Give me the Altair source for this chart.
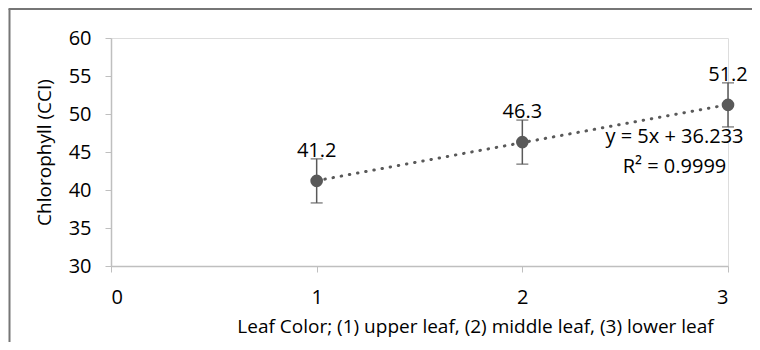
import altair as alt
import pandas as pd

# ---- data ----
leaf = [1, 2, 3]
chlorophyll = [41.2, 46.3, 51.2]
error = [2.9, 2.9, 2.9]
x_ticks = [0, 1, 2, 3]
y_ticks = [30, 35, 40, 45, 50, 55, 60]
eq_text = ["y = 5x + 36.233", "R² = 0.9999"]
eq_x = [2.74, 2.74]
eq_y = [47.0, 43.0]

df = pd.DataFrame({
    "x": leaf,
    "y": chlorophyll,
    "lo": [v - e for v, e in zip(chlorophyll, error)],
    "hi": [v + e for v, e in zip(chlorophyll, error)],
})
eq_df = pd.DataFrame({"x": eq_x, "y": eq_y, "t": eq_text})
one = pd.DataFrame({"a": [0]})

FONT = "Open Sans"
GRAY = "#595959"
AXIS_GRAY = "#bfbfbf"

W, H = 617, 228
PAD = {"left": 103, "top": 30, "right": 24, "bottom": 76}

xscale = alt.Scale(domain=[0, 3], nice=False, zero=False)
yscale = alt.Scale(domain=[30, 60], nice=False, zero=False)

xaxis = alt.Axis(values=x_ticks, format="d", grid=False,
                 title="Leaf Color; (1) upper leaf, (2) middle leaf, (3) lower leaf",
                 domainColor=AXIS_GRAY, tickColor=AXIS_GRAY, tickSize=6, domainWidth=1.5,
                 labelFont=FONT, labelFontSize=20, labelColor="#000000",
                 labelPadding=15, titleFont=FONT, titleFontSize=19,
                 titleFontWeight="normal", titleColor="#000000",
                 titleX=364, titleAnchor="middle", titlePadding=10)
yaxis = alt.Axis(values=y_ticks, grid=False, title="Chlorophyll (CCI)",
                 domainColor=AXIS_GRAY, tickColor=AXIS_GRAY, tickSize=6, domainWidth=1.5,
                 labelFont=FONT, labelFontSize=20, labelColor="#000000",
                 labelPadding=14, titleFont=FONT, titleFontSize=19,
                 titleFontWeight="normal", titleColor="#000000", titlePadding=14)

X = alt.X("x:Q", scale=xscale, axis=xaxis)
Y = alt.Y("y:Q", scale=yscale, axis=yaxis)

trend = alt.Chart(df).transform_regression(
    "x", "y", extent=[1, 3]
).mark_line(color=GRAY, strokeWidth=3, strokeDash=[0.5, 7.8], strokeCap="round").encode(x=X, y=Y)

bars = alt.Chart(df).mark_rule(color=GRAY, strokeWidth=1.5).encode(
    x=X, y=alt.Y("lo:Q", scale=yscale, axis=yaxis), y2="hi:Q")
cap_lo = alt.Chart(df).mark_tick(color=GRAY, orient="horizontal", size=12, thickness=1.5).encode(
    x=X, y=alt.Y("lo:Q", scale=yscale, axis=yaxis))
cap_hi = alt.Chart(df).mark_tick(color=GRAY, orient="horizontal", size=12, thickness=1.5).encode(
    x=X, y=alt.Y("hi:Q", scale=yscale, axis=yaxis))

points = alt.Chart(df).mark_point(filled=True, shape="circle", size=160, color=GRAY, opacity=1).encode(x=X, y=Y)

labels = alt.Chart(df).mark_text(font=FONT, fontSize=20, color="#000000", align="center",
                                 baseline="alphabetic", dy=-24).encode(
    x=X, y=Y, text=alt.Text("y:Q", format=".1f"))

eq = alt.Chart(eq_df).mark_text(font=FONT, fontSize=20, color="#000000", align="center",
                                baseline="middle").encode(x=X, y=Y, text="t:N")

border_left = alt.Chart(one).mark_rule(color="#767676", strokeWidth=2).encode(
    x=alt.value(-101.5), y=alt.value(-29), y2=alt.value(H + PAD["bottom"]))
border_top = alt.Chart(one).mark_rule(color="#767676", strokeWidth=2).encode(
    x=alt.value(-102.5), x2=alt.value(W + PAD["right"]), y=alt.value(-29))

chart = alt.layer(
    trend, bars, cap_lo, cap_hi, points, labels, eq, border_left, border_top
).properties(
    width=W, height=H, padding=PAD,
    autosize=alt.AutoSizeParams(type="none"),
).configure_view(stroke=None).configure(background="white")

chart.save("out.html", embed_options={"renderer": "svg", "actions": False})
